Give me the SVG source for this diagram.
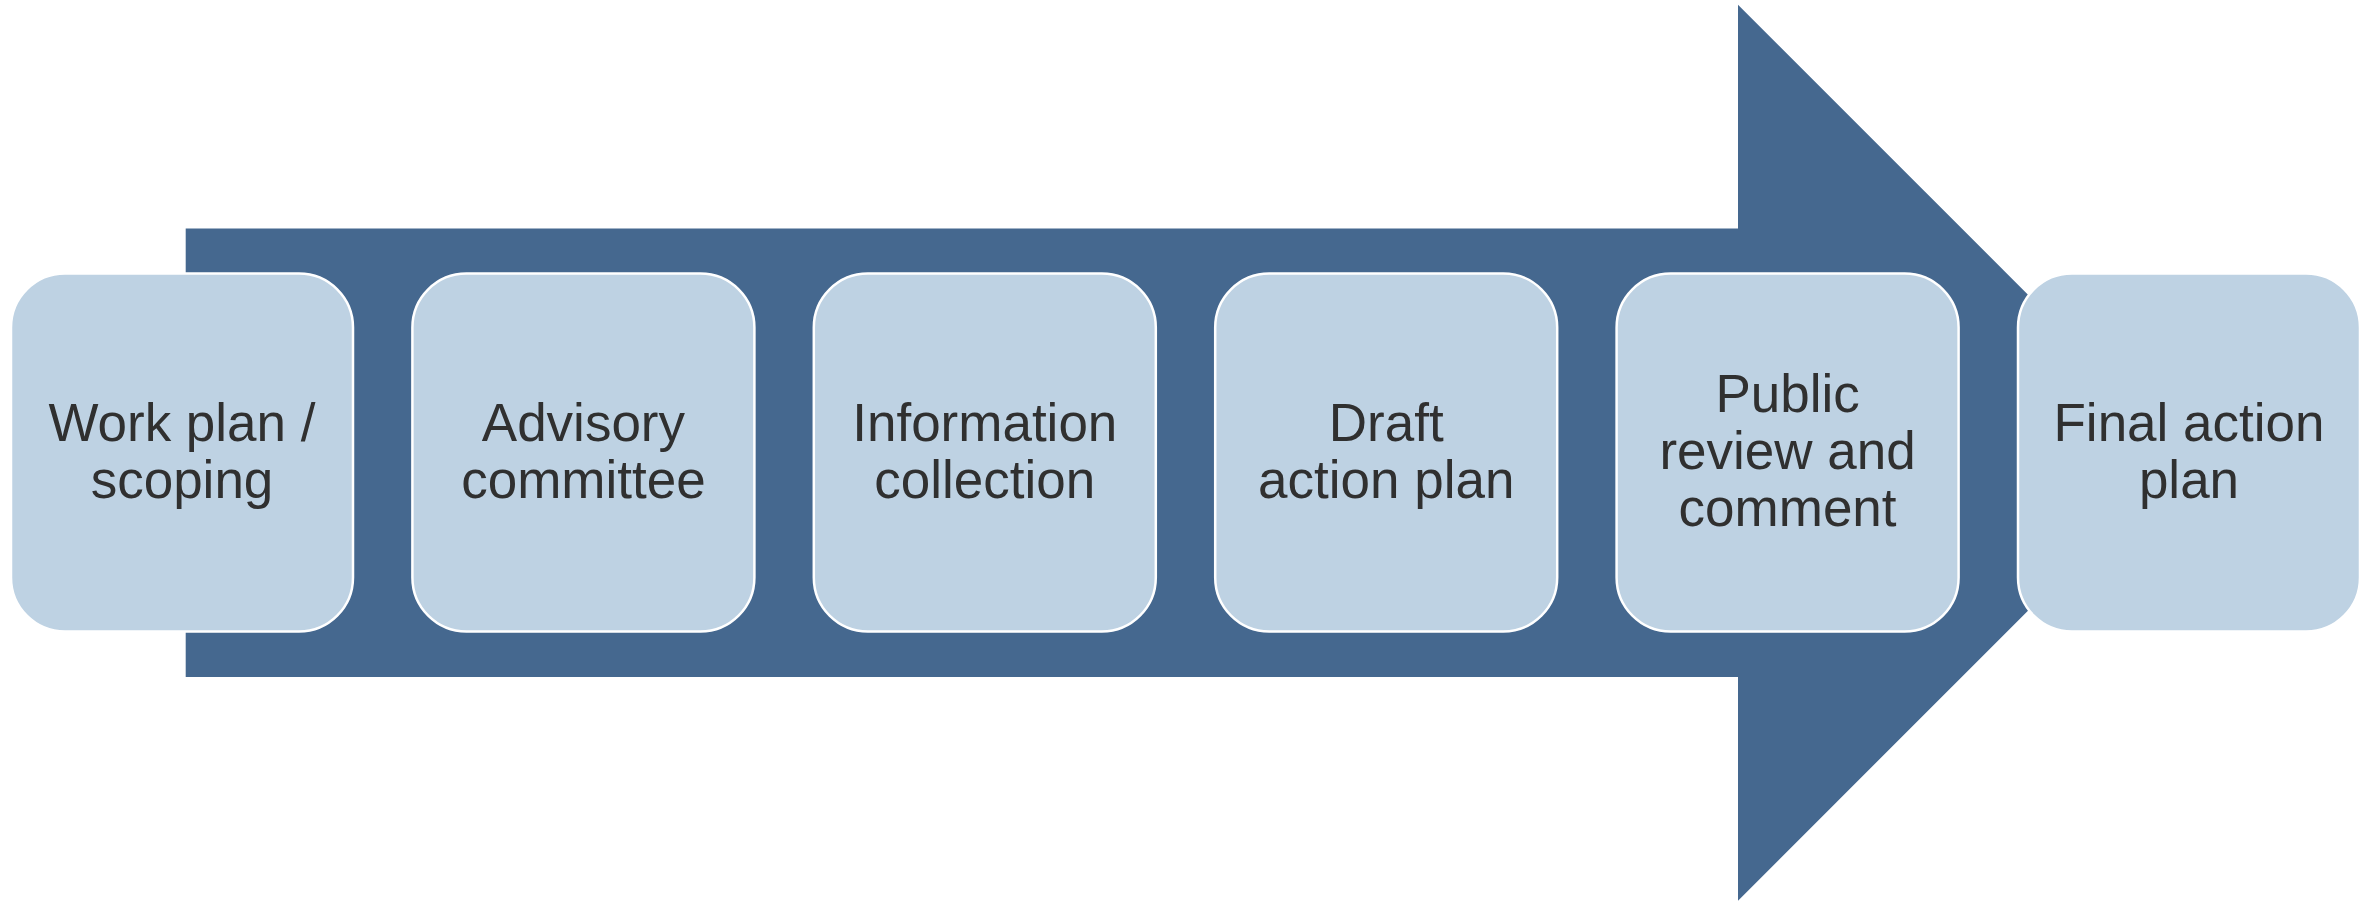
<svg xmlns="http://www.w3.org/2000/svg" width="2376" height="902" viewBox="0 0 2376 902">
  <style>
    .box { fill: #BED2E3; stroke: #FFFFFF; stroke-width: 2.5; }
    .lbl { font-family: "Liberation Sans", Arial, sans-serif; font-size: 53px; fill: #303030; text-anchor: middle; }
  </style>
  <rect width="2376" height="902" fill="#FFFFFF"/>
  <g id="connectors">
    <polygon id="arrow" points="185.7,228.5 1738,228.5 1738,4.7 2186,452.7 1738,900.7 1738,677 185.7,677" fill="#45688F"/>
  </g>
  <g id="node1">
    <rect class="box" x="11" y="273.5" width="342" height="358" rx="54" ry="54"/>
    <text class="lbl" x="182" y="441">Work plan /</text>
    <text class="lbl" x="182" y="498">scoping</text>
  </g>
  <g id="node2">
    <rect class="box" x="412.4" y="273.5" width="342" height="358" rx="54" ry="54"/>
    <text class="lbl" x="583.4" y="441">Advisory</text>
    <text class="lbl" x="583.4" y="498">committee</text>
  </g>
  <g id="node3">
    <rect class="box" x="813.8" y="273.5" width="342" height="358" rx="54" ry="54"/>
    <text class="lbl" x="984.8" y="441">Information</text>
    <text class="lbl" x="984.8" y="498">collection</text>
  </g>
  <g id="node4">
    <rect class="box" x="1215.2" y="273.5" width="342" height="358" rx="54" ry="54"/>
    <text class="lbl" x="1386.2" y="441">Draft</text>
    <text class="lbl" x="1386.2" y="498">action plan</text>
  </g>
  <g id="node5">
    <rect class="box" x="1616.6" y="273.5" width="342" height="358" rx="54" ry="54"/>
    <text class="lbl" x="1787.6" y="412">Public</text>
    <text class="lbl" x="1787.6" y="469">review and</text>
    <text class="lbl" x="1787.6" y="526">comment</text>
  </g>
  <g id="node6">
    <rect class="box" x="2018" y="273.5" width="342" height="358" rx="54" ry="54"/>
    <text class="lbl" x="2189" y="441">Final action</text>
    <text class="lbl" x="2189" y="498">plan</text>
  </g>
</svg>
